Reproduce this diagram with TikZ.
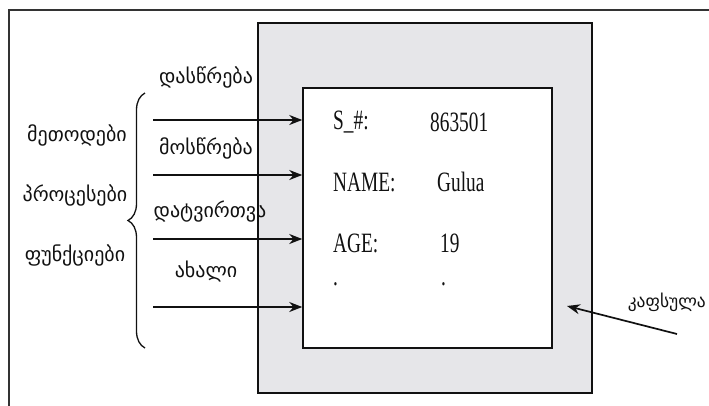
\documentclass[tikz,border=0pt]{standalone}
\usepackage{fontspec}
\usepackage{xcolor}
\usetikzlibrary{arrows.meta, positioning, calc, decorations.pathreplacing}
\newfontfamily\geofont{DejaVu Sans}
\newfontfamily\fieldfont[FakeStretch=0.69]{Liberation Serif}
\definecolor{capsulebg}{HTML}{E6E6E9}
\definecolor{framecolor}{HTML}{333333}
\definecolor{linecolor}{HTML}{111111}
\tikzset{
  outerframe/.style={
    draw=framecolor,
    line width=1.4pt
  },
  capsulebox/.style={
    draw=linecolor,
    fill=capsulebg,
    line width=1.6pt,
    minimum width=334pt,
    minimum height=370pt,
    inner sep=0pt
  },
  recordbox/.style={
    draw=linecolor,
    fill=white,
    line width=1.5pt,
    minimum width=249pt,
    minimum height=260pt,
    inner sep=0pt
  },
  geolabel/.style={
    font=\geofont\fontsize{20}{24}\selectfont,
    text=linecolor,
    inner sep=0pt
  },
  fieldtext/.style={
    font=\fieldfont\fontsize{28}{30}\selectfont,
    text=linecolor,
    anchor=west,
    inner sep=0pt
  },
  arrowin/.style={
    -{Stealth[length=13pt, width=10pt]},
    line width=1.7pt,
    color=linecolor
  }
}

\begin{document}
\begin{tikzpicture}[x=1pt, y=-1pt]

  \useasboundingbox (0,0) rectangle (709,405);

  % ==================== FRAME & BOXES ====================
  \draw [outerframe] (9,10) rectangle (715,412);

  \node (capsule) [capsulebox] at (425,208) {};
  \node (record) [recordbox] at (427.5,218) {};

  % ==================== RECORD FIELDS ====================
  \node (sid) [fieldtext] at (333,122) {S\_\#:};
  \node (sidval) [fieldtext] at (430,122) {863501};
  \node (name) [fieldtext] at (333,182) {NAME:};
  \node (nameval) [fieldtext] at (437,182) {Gulua};
  \node (age) [fieldtext] at (333,243) {AGE:};
  \node (ageval) [fieldtext] at (440,243) {19};
  \node (dot1) [fieldtext] at (333,284) {.};
  \node (dot2) [fieldtext] at (441,284) {.};

  % ==================== LEFT LABELS ====================
  \node (methods) [geolabel] at (77,135) {მეთოდები};
  \node (procs) [geolabel] at (75,195) {პროცესები};
  \node (funcs) [geolabel] at (75,255) {ფუნქციები};

  \coordinate (brbot) at (145,348);
  \coordinate (brtop) at (145,93);
  \draw [line width=1.3pt, color=linecolor, decorate, decoration={brace, amplitude=17pt}] (brbot) -- (brtop);

  % ==================== MESSAGES ====================
  \node (m1) [geolabel] at (206,77) {დასწრება};
  \node (m2) [geolabel] at (206,148) {მოსწრება};
  \node (m3) [geolabel] at (210,212) {დატვირთვა};
  \node (m4) [geolabel] at (206,272) {ახალი};

  \coordinate (s1) at (153,120);
  \coordinate (s2) at (153,175);
  \coordinate (s3) at (153,239);
  \coordinate (s4) at (153,307);

  \draw [arrowin] (s1) -- (s1 -| record.west);
  \draw [arrowin] (s2) -- (s2 -| record.west);
  \draw [arrowin] (s3) -- (s3 -| record.west);
  \draw [arrowin] (s4) -- (s4 -| record.west);

  % ==================== CAPSULE LABEL ====================
  \node (caps) [geolabel, font=\geofont\fontsize{17.5}{20}\selectfont, anchor=east] at (706,302) {კაფსულა};
  \coordinate (captail) at (677,334);
  \coordinate (caphead) at (567,306);
  \draw [arrowin] (captail) -- (caphead);

\end{tikzpicture}
\end{document}
